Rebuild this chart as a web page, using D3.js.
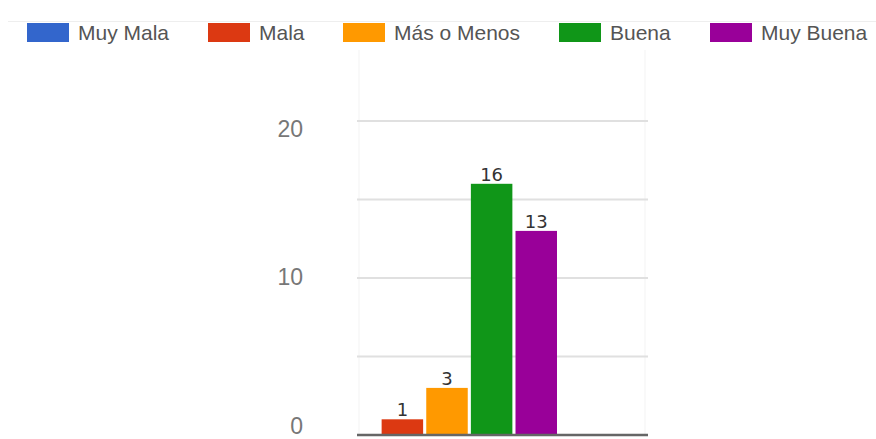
<!DOCTYPE html>
<html><head><meta charset="utf-8">
<script src="https://cdn.jsdelivr.net/npm/d3@7"></script>
<style>html,body{margin:0;padding:0;background:#fff;}svg{display:block;}</style>
</head><body>
<script>
const series = ["Muy Mala", "Mala", "Más o Menos", "Buena", "Muy Buena"];
const values = [0, 1, 3, 16, 13];
const colors = ["#3366cc", "#dc3912", "#ff9900", "#109618", "#990099"];
const yTicks = [0, 10, 20];
const gridTicks = [5, 10, 15, 20];
const legendX = [27, 208, 343, 559, 710];

const W = 876, H = 439;
const svg = d3.select("body").append("svg").attr("width", W).attr("height", H);

// legend
svg.append("line").attr("x1", 8).attr("x2", 876).attr("y1", 21.5).attr("y2", 21.5)
  .attr("stroke", "#eee").attr("stroke-width", 1);
const lg = svg.append("g").selectAll("g").data(series).join("g")
  .attr("transform", (d, i) => `translate(${legendX[i]},0)`);
lg.append("rect").attr("x", 0).attr("y", 23).attr("width", 42).attr("height", 19)
  .attr("fill", (d, i) => colors[i]);
lg.append("text").attr("x", 51).attr("y", 40).text(d => d)
  .attr("font-family", "Liberation Sans, Arial, sans-serif").attr("font-size", 21)
  .attr("fill", "#555");

// plot
const x0 = 357, x1 = 648;
const y = d3.scaleLinear().domain([0, 20]).range([435, 121]);
const yLab = d3.scaleLinear().domain([0, 20]).range([425, 128]);
const xb = d3.scaleBand().domain(series).range([337, 557]).paddingInner(0.07).paddingOuter(0);

// faint vertical borders
[359, 645].forEach(xx => svg.append("line").attr("x1", xx).attr("x2", xx).attr("y1", 50).attr("y2", 435)
  .attr("stroke", "#f3f3f3").attr("stroke-width", 1));

svg.append("g").selectAll("line").data(gridTicks).join("line")
  .attr("x1", x0).attr("x2", x1).attr("y1", d => y(d)).attr("y2", d => y(d))
  .attr("stroke", "#e0e0e0").attr("stroke-width", 2);

const yAxis = d3.axisLeft(yLab).tickValues(yTicks).tickSize(0).tickPadding(0);
const ga = svg.append("g").attr("transform", "translate(303,0)").call(yAxis);
ga.select(".domain").remove();
ga.selectAll("text").attr("font-family", "Liberation Sans, Arial, sans-serif")
  .attr("font-size", 23).attr("fill", "#777").attr("dy", "0.35em");

svg.append("g").selectAll("rect").data(values).join("rect")
  .attr("x", (d, i) => xb(series[i])).attr("width", xb.bandwidth())
  .attr("y", d => y(d)).attr("height", d => y(0) - y(d))
  .attr("fill", (d, i) => colors[i]);

svg.append("g").selectAll("text").data(values.map((v, i) => ({v, s: series[i]})).filter(d => d.v > 0)).join("text")
  .attr("x", d => xb(d.s) + xb.bandwidth() / 2)
  .attr("y", d => y(d.v) - 3)
  .attr("text-anchor", "middle")
  .attr("font-family", "DejaVu Sans, sans-serif").attr("font-size", 18)
  .attr("fill", "#333").text(d => d.v);

svg.append("line").attr("x1", x0).attr("x2", x1).attr("y1", y(0)).attr("y2", y(0))
  .attr("stroke", "#666").attr("stroke-width", 2.5);
</script>
</body></html>
